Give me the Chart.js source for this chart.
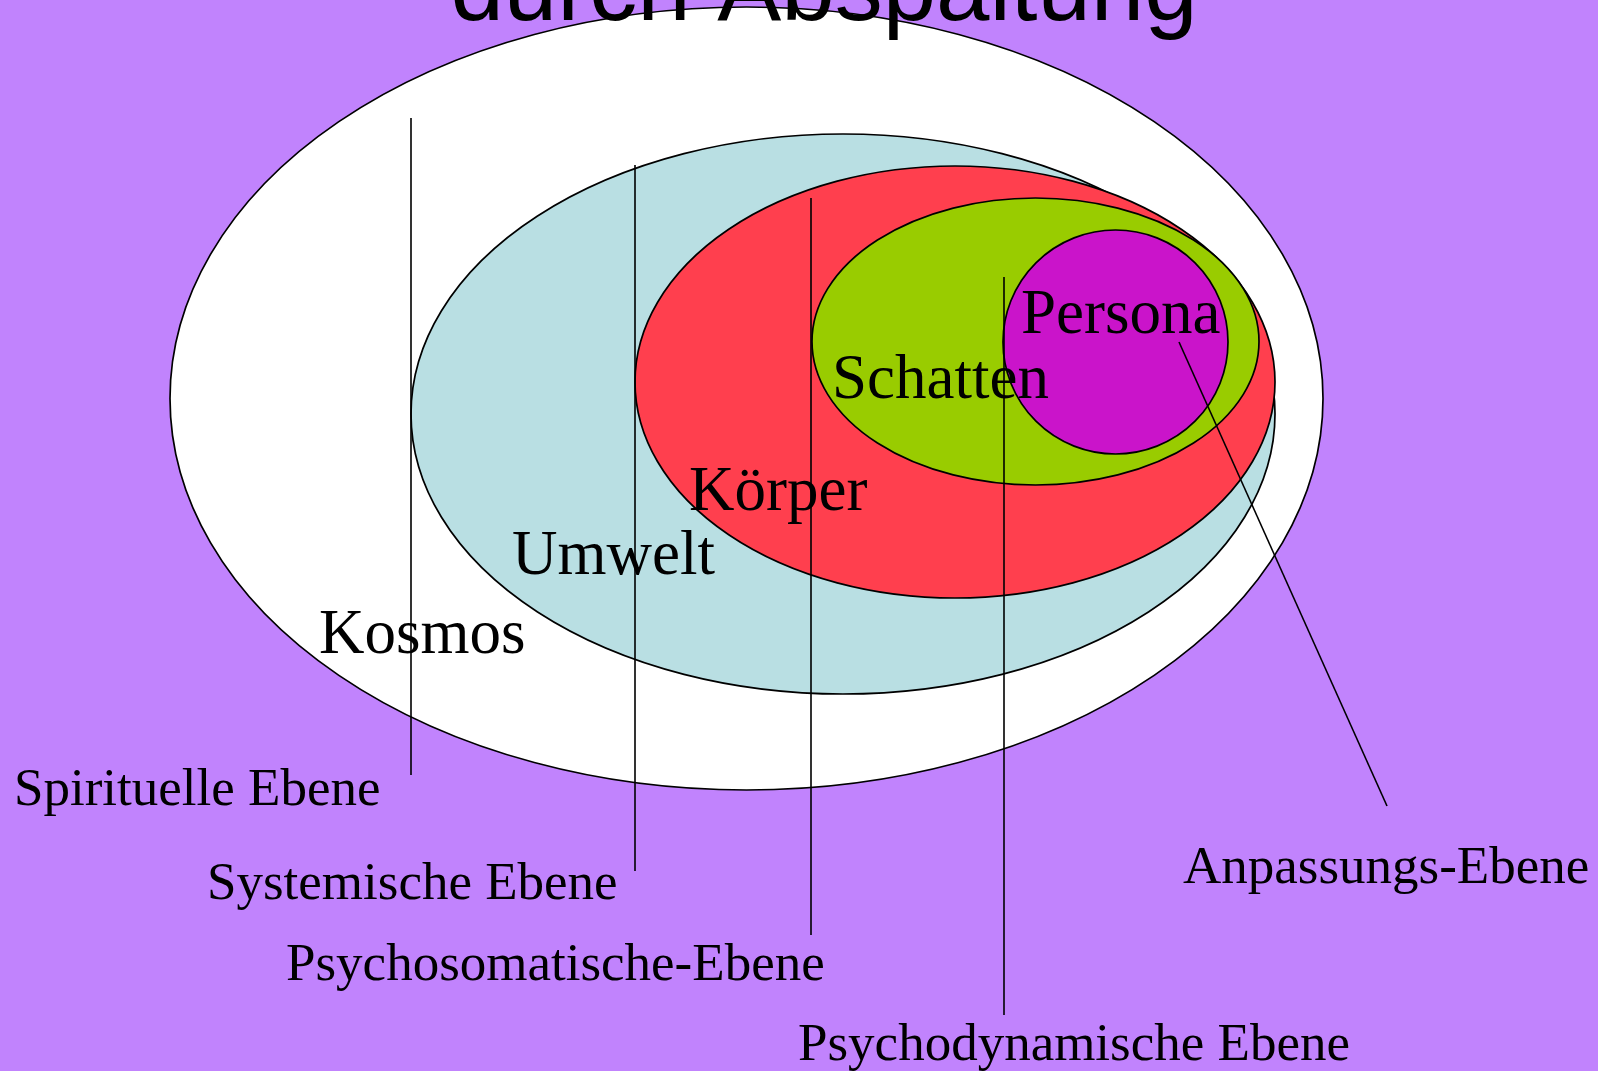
<!DOCTYPE html>
<html>
<head>
<meta charset="utf-8">
<script src="https://cdn.jsdelivr.net/npm/chart.js@4.4.1/dist/chart.umd.min.js"></script>
<style>
  html, body { margin: 0; padding: 0; background: #c183fd; overflow: hidden; }
  #wrap { width: 1598px; height: 1071px; }
</style>
</head>
<body>
<div id="wrap"><canvas id="chartOne" width="1598" height="1071"></canvas></div>
<script>
// nested layers, outer to inner (centre / radii in picture units)
const layerNames = ['Kosmos', 'Umwelt', 'Körper', 'Schatten', 'Persona']
const layerCx = [746.5, 843, 955, 1035.5, 1115.5]
const layerCy = [398.5, 414, 382, 341.5, 342]
const layerRx = [576.5, 432, 320, 223.5, 112.5]
const layerRy = [391.5, 280, 216, 143.5, 112]
const layerColors = ['#ffffff', '#b9dfe3', '#ff3f4e', '#99cc00', '#ca14ca']

// where the layer names sit (left / baseline)
const layerLabelX = [319, 512, 689, 832, 1021]
const layerLabelY = [653, 574, 510, 398, 333]

// pointer lines to the level names
const levelNames = ['Spirituelle Ebene', 'Systemische Ebene', 'Psychosomatische-Ebene', 'Psychodynamische Ebene', 'Anpassungs-Ebene']
const lineStartX = [411, 635, 811, 1004, 1179]
const lineStartY = [118, 165, 198, 277, 342]
const lineEndX = [411, 635, 811, 1004, 1387]
const lineEndY = [775, 871, 935, 1015, 806]
const levelLabelX = [14, 207, 286, 798, 1183]
const levelLabelY = [805, 899, 980, 1060, 883]

const title = 'durch Abspaltung'

let ellipses = {
  id: 'ellipses',
  beforeDatasetsDraw(chart) {
    let ctx = chart.ctx, xs = chart.scales.x, ys = chart.scales.y
    ctx.save()
    ctx.fillStyle = '#c183fd'
    ctx.fillRect(0, 0, chart.width, chart.height)
    for (let i = 0; i < layerNames.length; i++) {
      let cx = xs.getPixelForValue(layerCx[i])
      let cy = ys.getPixelForValue(layerCy[i])
      let rx = Math.abs(xs.getPixelForValue(layerCx[i] + layerRx[i]) - cx)
      let ry = Math.abs(ys.getPixelForValue(layerCy[i] + layerRy[i]) - cy)
      ctx.beginPath()
      ctx.ellipse(cx, cy, rx, ry, 0, 0, Math.PI * 2)
      ctx.fillStyle = layerColors[i]
      ctx.fill()
      ctx.lineWidth = 1.7
      ctx.strokeStyle = '#000'
      ctx.stroke()
    }
    ctx.restore()
  }
}

let labels = {
  id: 'labels',
  afterDatasetsDraw(chart) {
    let ctx = chart.ctx, xs = chart.scales.x, ys = chart.scales.y
    ctx.save()
    ctx.fillStyle = '#000'
    ctx.textAlign = 'left'
    ctx.textBaseline = 'alphabetic'
    ctx.font = '63px "Liberation Serif", "Times New Roman", serif'
    layerNames.forEach((t, i) => {
      ctx.fillText(t, xs.getPixelForValue(layerLabelX[i]), ys.getPixelForValue(layerLabelY[i]))
    })
    ctx.font = '53px "Liberation Serif", "Times New Roman", serif'
    levelNames.forEach((t, i) => {
      ctx.fillText(t, xs.getPixelForValue(levelLabelX[i]), ys.getPixelForValue(levelLabelY[i]))
    })
    ctx.textAlign = 'center'
    ctx.font = '96px "Liberation Sans", Arial, sans-serif'
    ctx.fillText(title, xs.getPixelForValue(824), ys.getPixelForValue(20))
    ctx.restore()
  }
}

let lineSets = levelNames.map((n, i) => ({
  label: n,
  data: [{x: lineStartX[i], y: lineStartY[i]}, {x: lineEndX[i], y: lineEndY[i]}],
  showLine: true,
  borderColor: '#000',
  borderWidth: 1.6,
  pointRadius: 0,
  fill: false
}))

let diagram = new Chart(document.getElementById('chartOne').getContext('2d'), {
  type: 'scatter',
  data: { datasets: lineSets },
  options: {
    responsive: false,
    animation: false,
    devicePixelRatio: 1,
    layout: { padding: 0 },
    plugins: { legend: { display: false }, tooltip: { enabled: false } },
    scales: {
      x: { type: 'linear', min: 0, max: 1598, display: false },
      y: { type: 'linear', min: 0, max: 1071, reverse: true, display: false }
    }
  },
  plugins: [ellipses, labels]
})
</script>
</body>
</html>
